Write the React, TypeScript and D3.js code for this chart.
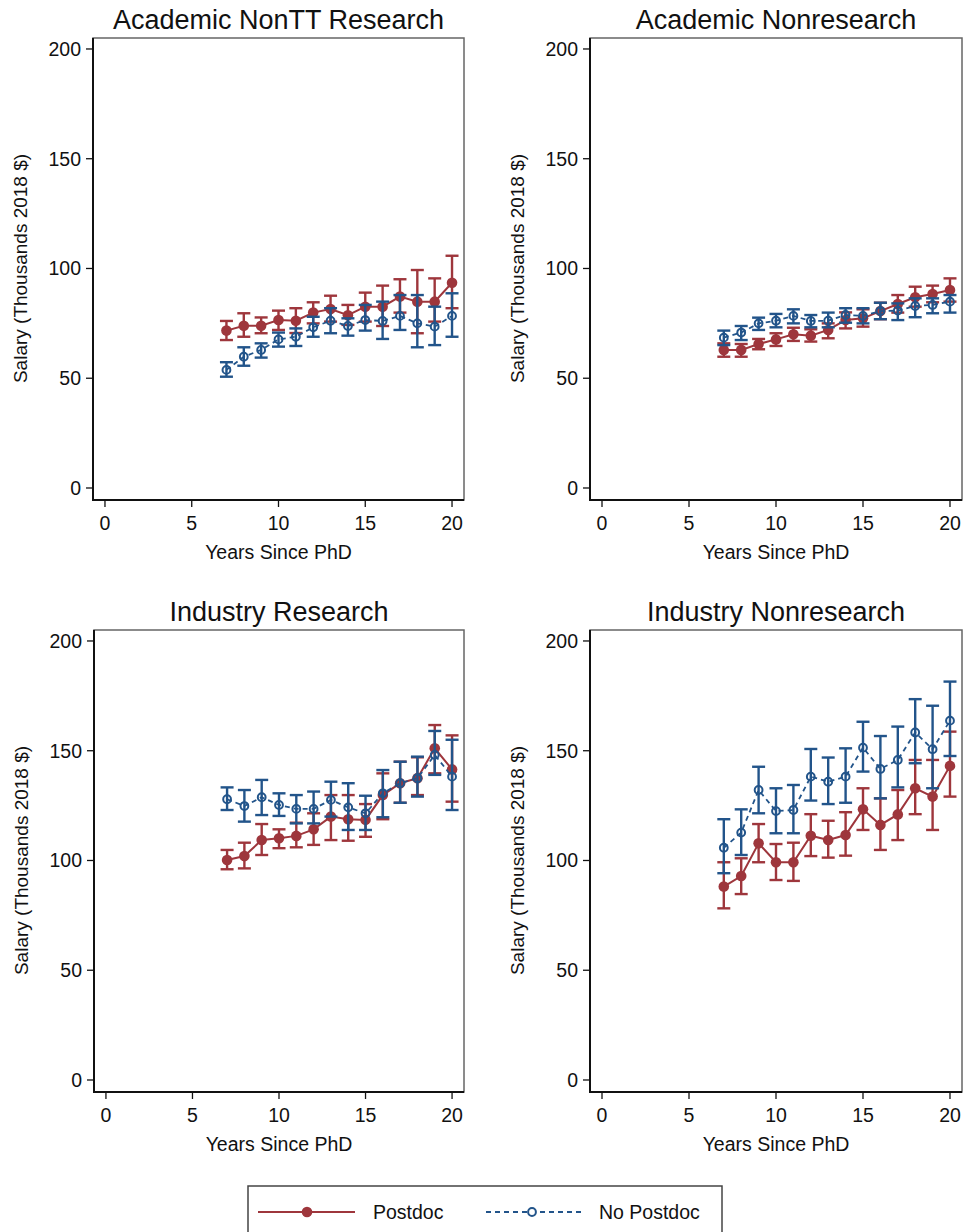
import React from "react";
import * as d3 from "d3";

const years = [7, 8, 9, 10, 11, 12, 13, 14, 15, 16, 17, 18, 19, 20];
const xTicks = [0, 5, 10, 15, 20];
const yTicks = [0, 50, 100, 150, 200];
const panelTitles = ["Academic NonTT Research", "Academic Nonresearch", "Industry Research", "Industry Nonresearch"];
const seriesNames = ["Postdoc", "No Postdoc"];

// Academic NonTT Research
const p1PostMean = [71.7, 73.9, 73.9, 76.5, 76.2, 79.9, 81.5, 78.7, 82.6, 82.6, 87.2, 84.9, 84.9, 93.5];
const p1PostLo = [67.4, 68.9, 70.5, 72.0, 70.6, 75.0, 75.8, 74.3, 75.8, 73.8, 79.9, 70.5, 75.8, 81.9];
const p1PostHi = [76.1, 79.6, 77.7, 80.8, 81.9, 84.6, 87.6, 83.4, 89.0, 92.2, 95.1, 99.3, 95.5, 105.8];
const p1NoMean = [53.8, 59.8, 62.9, 67.7, 68.9, 73.2, 76.2, 73.8, 76.5, 76.1, 78.4, 75.0, 73.5, 78.4];
const p1NoLo = [50.7, 55.7, 59.4, 64.4, 64.7, 68.9, 70.5, 69.4, 71.7, 67.9, 72.0, 64.1, 65.1, 68.9];
const p1NoHi = [57.3, 64.1, 65.9, 70.8, 72.7, 78.0, 81.9, 77.3, 83.4, 84.9, 87.9, 87.9, 82.6, 88.7];

// Academic Nonresearch
const p2PostMean = [62.9, 62.9, 65.6, 67.7, 70.0, 69.4, 72.0, 76.5, 77.3, 80.6, 83.8, 86.9, 88.4, 90.2];
const p2PostLo = [59.8, 59.8, 63.2, 64.7, 67.0, 66.7, 68.2, 72.7, 73.5, 76.9, 79.9, 82.6, 84.6, 84.9];
const p2PostHi = [65.9, 65.6, 67.9, 70.5, 73.0, 72.3, 75.0, 80.0, 81.4, 84.4, 87.9, 91.7, 92.2, 95.5];
const p2NoMean = [68.5, 70.8, 75.0, 76.2, 78.4, 76.1, 76.2, 78.8, 78.4, 80.6, 80.8, 82.9, 83.4, 84.9];
const p2NoLo = [65.1, 67.4, 72.0, 73.2, 75.0, 73.2, 73.2, 75.3, 75.0, 76.9, 76.5, 77.8, 79.6, 79.9];
const p2NoHi = [71.7, 73.8, 77.6, 79.3, 81.4, 78.8, 79.9, 81.9, 81.9, 84.4, 84.1, 86.4, 86.4, 87.9];

// Industry Research
const p3PostMean = [100.2, 102.0, 109.3, 110.1, 111.2, 114.2, 120.0, 118.8, 118.5, 129.8, 135.2, 137.5, 151.1, 141.5];
const p3PostLo = [96.0, 96.4, 102.5, 105.6, 106.0, 107.1, 109.3, 109.0, 110.8, 118.8, 126.3, 129.8, 139.7, 126.8];
const p3PostHi = [104.8, 108.1, 116.6, 114.2, 117.2, 121.5, 129.8, 129.8, 125.7, 139.7, 145.0, 147.0, 161.7, 157.0];
const p3NoMean = [127.9, 124.8, 128.8, 125.3, 123.5, 123.5, 127.6, 124.2, 121.5, 130.6, 135.2, 137.5, 148.1, 138.2];
const p3NoLo = [123.0, 117.7, 120.7, 120.3, 116.9, 116.9, 120.0, 113.9, 113.9, 119.7, 126.3, 129.1, 139.0, 123.0];
const p3NoHi = [133.3, 132.1, 136.7, 130.6, 129.8, 131.4, 135.9, 135.2, 129.5, 141.2, 145.0, 147.3, 159.0, 155.0];

// Industry Nonresearch
const p4PostMean = [88.1, 92.9, 107.8, 99.2, 99.2, 111.3, 109.3, 111.6, 123.3, 116.2, 121.0, 132.9, 129.1, 143.1];
const p4PostLo = [78.2, 84.7, 99.2, 91.1, 90.7, 102.0, 101.3, 102.2, 113.9, 104.8, 109.3, 121.1, 113.9, 129.1];
const p4PostHi = [99.2, 101.0, 116.6, 107.5, 108.1, 121.1, 118.1, 122.0, 132.9, 128.3, 132.1, 145.8, 145.8, 158.7];
const p4NoMean = [105.8, 112.7, 132.1, 122.5, 123.0, 138.2, 135.9, 138.2, 151.4, 141.7, 145.8, 158.3, 150.7, 163.7];
const p4NoLo = [94.2, 102.5, 121.5, 112.4, 112.4, 127.3, 125.7, 126.3, 140.5, 128.3, 133.3, 144.3, 132.9, 147.6];
const p4NoHi = [118.8, 123.3, 142.7, 132.9, 134.4, 150.8, 146.9, 151.1, 163.2, 156.7, 161.0, 173.5, 170.5, 181.5];

const panels = [
  { title: panelTitles[0], post: [p1PostMean, p1PostLo, p1PostHi], no: [p1NoMean, p1NoLo, p1NoHi] },
  { title: panelTitles[1], post: [p2PostMean, p2PostLo, p2PostHi], no: [p2NoMean, p2NoLo, p2NoHi] },
  { title: panelTitles[2], post: [p3PostMean, p3PostLo, p3PostHi], no: [p3NoMean, p3NoLo, p3NoHi] },
  { title: panelTitles[3], post: [p4PostMean, p4PostLo, p4PostHi], no: [p4NoMean, p4NoLo, p4NoHi] },
];

const RED = "#9e363c";
const BLUE = "#22548a";
const FONT = "'Liberation Sans', Arial, Helvetica, sans-serif";

const layout = [
  { left: 93, right: 464, top: 38, bottom: 500 },
  { left: 590, right: 962, top: 38, bottom: 500 },
  { left: 94, right: 464, top: 630, bottom: 1092 },
  { left: 590, right: 962, top: 630, bottom: 1092 },
];

function Panel({ p, box }: any) {
  const x = d3.scaleLinear().domain([-0.69, 20.69]).range([box.left, box.right]);
  const y = d3.scaleLinear().domain([-5.47, 205.0]).range([box.bottom, box.top]);
  const line = d3
    .line<number>()
    .x((_, i) => x(years[i]))
    .y((d) => y(d));
  const cap = 6.5;
  const series = (vals: number[][], color: string, hollow: boolean) => (
    <g>
      {years.map((yr, i) => (
        <g key={i} stroke={color} strokeWidth={2.4}>
          <line x1={x(yr)} x2={x(yr)} y1={y(vals[1][i])} y2={y(vals[2][i])} />
          <line x1={x(yr) - cap} x2={x(yr) + cap} y1={y(vals[1][i])} y2={y(vals[1][i])} />
          <line x1={x(yr) - cap} x2={x(yr) + cap} y1={y(vals[2][i])} y2={y(vals[2][i])} />
        </g>
      ))}
      <path
        d={line(vals[0]) || ""}
        fill="none"
        stroke={color}
        strokeWidth={hollow ? 1.8 : 2}
        strokeDasharray={hollow ? "5,4" : undefined}
      />
      {years.map((yr, i) =>
        hollow ? (
          <circle key={i} cx={x(yr)} cy={y(vals[0][i])} r={3.9} fill="none" stroke={color} strokeWidth={2} />
        ) : (
          <circle key={i} cx={x(yr)} cy={y(vals[0][i])} r={5.3} fill={color} />
        )
      )}
    </g>
  );
  const cx = (box.left + box.right) / 2;
  const cy = (y(0) + y(200)) / 2;
  return (
    <g>
      <rect x={box.left} y={box.top} width={box.right - box.left} height={box.bottom - box.top} fill="white" stroke="#666" strokeWidth={1.5} />
      <line x1={box.left} x2={box.left} y1={box.top} y2={box.bottom + 1} stroke="#111" strokeWidth={2} />
      <line x1={box.left - 1} x2={box.right} y1={box.bottom} y2={box.bottom} stroke="#111" strokeWidth={2} />
      {yTicks.map((t) => (
        <g key={t}>
          <line x1={box.left - 7} x2={box.left} y1={y(t)} y2={y(t)} stroke="#111" strokeWidth={1.3} />
          <text x={box.left - 12} y={y(t) + 7} textAnchor="end" fontSize={19.5} fontFamily={FONT} fill="#111">
            {t}
          </text>
        </g>
      ))}
      {xTicks.map((t) => (
        <g key={t}>
          <line x1={x(t)} x2={x(t)} y1={box.bottom} y2={box.bottom + 7} stroke="#111" strokeWidth={1.3} />
          <text x={x(t)} y={box.bottom + 30} textAnchor="middle" fontSize={19.5} fontFamily={FONT} fill="#111">
            {t}
          </text>
        </g>
      ))}
      <text x={cx} y={box.top - 9} textAnchor="middle" fontSize={27} fontFamily={FONT} fill="#111">
        {p.title}
      </text>
      <text x={cx} y={box.bottom + 59} textAnchor="middle" fontSize={19.5} fontFamily={FONT} fill="#111">
        Years Since PhD
      </text>
      <text
        transform={`translate(${box.left - 66},${cy}) rotate(-90)`}
        textAnchor="middle"
        fontSize={19}
        fontFamily={FONT}
        fill="#111"
      >
        Salary (Thousands 2018 $)
      </text>
      {series(p.post, RED, false)}
      {series(p.no, BLUE, true)}
    </g>
  );
}

export default function App() {
  return (
    <svg width={964} height={1232} style={{ position: "absolute", left: 0, top: 0, background: "white" }}>
      <rect x={0} y={0} width={964} height={1232} fill="white" />
      {panels.map((p, i) => (
        <Panel key={i} p={p} box={layout[i]} />
      ))}
      <g>
        <rect x={248} y={1186} width={474} height={60} fill="white" stroke="#444" strokeWidth={1.5} />
        <line x1={258} x2={355} y1={1212} y2={1212} stroke={RED} strokeWidth={2} />
        <circle cx={307} cy={1212} r={5.3} fill={RED} />
        <text x={373} y={1219} fontSize={19.5} fontFamily={FONT} fill="#111">
          {seriesNames[0]}
        </text>
        <line x1={486} x2={583} y1={1212} y2={1212} stroke={BLUE} strokeWidth={1.8} strokeDasharray="5,4" />
        <circle cx={532} cy={1212} r={3.9} fill="white" stroke={BLUE} strokeWidth={2} />
        <text x={599} y={1219} fontSize={19.5} fontFamily={FONT} fill="#111">
          {seriesNames[1]}
        </text>
      </g>
    </svg>
  );
}
